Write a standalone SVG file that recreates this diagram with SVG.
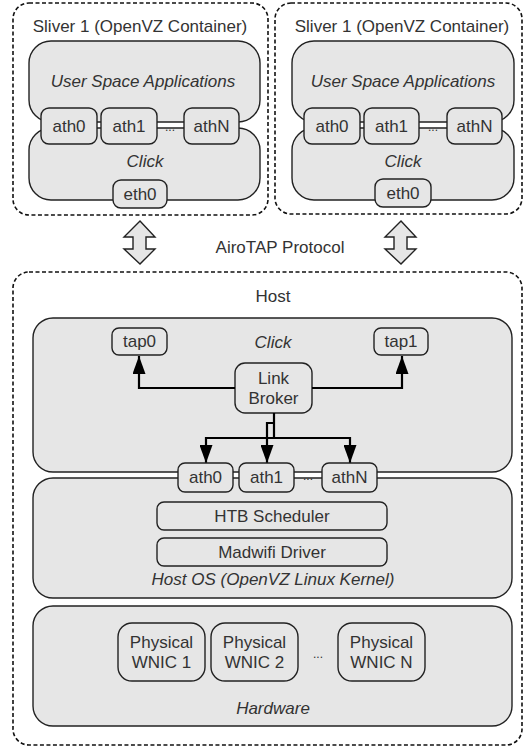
<svg xmlns="http://www.w3.org/2000/svg" width="525" height="747" viewBox="0 0 525 747">
<defs>
<style>
.dash{fill:none;stroke:#111;stroke-width:1.6;stroke-dasharray:4 2.5}
.box{fill:#e6e6e6;stroke:#222;stroke-width:1.4}
.t{font-family:"Liberation Sans",Arial,sans-serif;font-size:17px;fill:#333;text-anchor:middle}
.i{font-style:italic}
.c{fill:none;stroke:#000;stroke-width:2.2}
.dots{font-family:"Liberation Sans",Arial,sans-serif;font-size:12px;fill:#333;text-anchor:middle}
</style>
<marker id="arr" viewBox="0 0 18 13" refX="18" refY="6.5" markerWidth="18" markerHeight="13" markerUnits="userSpaceOnUse" orient="auto">
<path d="M0,0 L18,6.5 L0,13 Z" fill="#000"/>
</marker>
</defs>
<rect width="525" height="747" fill="#fff"/>

<g id="sliver-left">
<rect class="dash" x="13" y="3" width="255" height="212" rx="16"/>
<text class="t" x="140" y="32">Sliver 1 (OpenVZ Container)</text>
<rect class="box" x="29" y="41" width="231" height="81" rx="22"/>
<text class="t i" x="143" y="87">User Space Applications</text>
<rect class="box" x="29" y="128" width="231" height="72" rx="22"/>
<text class="t i" x="145" y="167">Click</text>
<text class="dots" x="170" y="131">...</text>
<g id="sl-ath0"><rect class="box" x="41" y="108" width="56" height="36" rx="8"/><text class="t" x="69" y="132">ath0</text></g>
<g id="sl-ath1"><rect class="box" x="101" y="108" width="56" height="36" rx="8"/><text class="t" x="129" y="132">ath1</text></g>
<g id="sl-athN"><rect class="box" x="184" y="108" width="55" height="36" rx="8"/><text class="t" x="211.5" y="132">athN</text></g>
<g id="sl-eth0"><rect class="box" x="113" y="180" width="54" height="28" rx="8"/><text class="t" x="140" y="200">eth0</text></g>
</g>

<g id="sliver-right">
<rect class="dash" x="275" y="3" width="247" height="211" rx="16"/>
<text class="t" x="402" y="32">Sliver 1 (OpenVZ Container)</text>
<rect class="box" x="292" y="41" width="222" height="81" rx="22"/>
<text class="t i" x="403" y="87">User Space Applications</text>
<rect class="box" x="292" y="128" width="222" height="72" rx="22"/>
<text class="t i" x="403" y="167">Click</text>
<text class="dots" x="433" y="131">...</text>
<g id="sr-ath0"><rect class="box" x="304" y="108" width="56" height="36" rx="8"/><text class="t" x="332" y="132">ath0</text></g>
<g id="sr-ath1"><rect class="box" x="364" y="108" width="55" height="36" rx="8"/><text class="t" x="391.5" y="132">ath1</text></g>
<g id="sr-athN"><rect class="box" x="447" y="108" width="55" height="36" rx="8"/><text class="t" x="474.5" y="132">athN</text></g>
<g id="sr-eth0"><rect class="box" x="375" y="179" width="56" height="28" rx="8"/><text class="t" x="403" y="199">eth0</text></g>
</g>

<g id="airotap">
<path class="box" d="M140,221 L155,237 L146,237 L146,249 L155,249 L140,264 L124,249 L133,249 L133,237 L124,237 Z" stroke-width="1"/>
<path class="box" d="M401,221 L416,237 L407,237 L407,249 L416,249 L401,264 L385,249 L394,249 L394,237 L385,237 Z" stroke-width="1"/>
<text class="t" x="280" y="253">AiroTAP Protocol</text>
</g>

<g id="host">
<rect class="dash" x="13" y="272" width="509" height="473" rx="16"/>
<text class="t" x="273" y="302">Host</text>
</g>

<g id="host-click">
<rect class="box" x="33" y="318" width="479" height="154" rx="20"/>
<text class="t i" x="273" y="348">Click</text>
</g>

<g id="host-os">
<rect class="box" x="33" y="478" width="479" height="120" rx="20"/>
<text class="t i" x="273" y="585">Host OS (OpenVZ Linux Kernel)</text>
</g>

<g id="tap0"><rect class="box" x="112" y="328" width="55" height="27" rx="7"/><text class="t" x="139.5" y="347">tap0</text></g>
<g id="tap1"><rect class="box" x="374" y="328" width="54" height="27" rx="7"/><text class="t" x="401" y="347">tap1</text></g>
<g id="link-broker"><rect class="box" x="235" y="363" width="77" height="50" rx="10"/><text class="t" x="273.5" y="384">Link</text><text class="t" x="273.5" y="404">Broker</text></g>

<g id="connectors">
<path class="c" d="M235,388 H139 V356" marker-end="url(#arr)"/>
<path class="c" d="M312,388 H402 V356" marker-end="url(#arr)"/>
<path class="c" d="M274,413 V438 H206 V463" marker-end="url(#arr)"/>
<path class="c" d="M274,438 H350 V463" marker-end="url(#arr)"/>
<path class="c" d="M274,423 H267 V463" marker-end="url(#arr)"/>
</g>

<text class="dots" x="308" y="480">...</text>
<g id="h-ath0"><rect class="box" x="178" y="463" width="55" height="29" rx="7"/><text class="t" x="205.5" y="483">ath0</text></g>
<g id="h-ath1"><rect class="box" x="239" y="463" width="55" height="29" rx="7"/><text class="t" x="266.5" y="483">ath1</text></g>
<g id="h-athN"><rect class="box" x="322" y="463" width="55" height="29" rx="7"/><text class="t" x="349.5" y="483">athN</text></g>

<g id="htb"><rect class="box" x="157" y="502" width="230" height="28" rx="7"/><text class="t" x="272" y="522">HTB Scheduler</text></g>
<g id="madwifi"><rect class="box" x="157" y="538" width="230" height="28" rx="7"/><text class="t" x="272" y="558">Madwifi Driver</text></g>

<g id="hardware">
<rect class="box" x="33" y="606" width="479" height="120" rx="20"/>
<text class="t i" x="273" y="714">Hardware</text>
</g>
<g id="wnic1"><rect class="box" x="118" y="623" width="87" height="58" rx="14"/><text class="t" x="161.5" y="648">Physical</text><text class="t" x="161.5" y="668">WNIC 1</text></g>
<g id="wnic2"><rect class="box" x="211" y="623" width="87" height="58" rx="14"/><text class="t" x="254.5" y="648">Physical</text><text class="t" x="254.5" y="668">WNIC 2</text></g>
<text class="dots" x="318" y="658">...</text>
<g id="wnicN"><rect class="box" x="338" y="623" width="87" height="58" rx="14"/><text class="t" x="381.5" y="648">Physical</text><text class="t" x="381.5" y="668">WNIC N</text></g>
</svg>
